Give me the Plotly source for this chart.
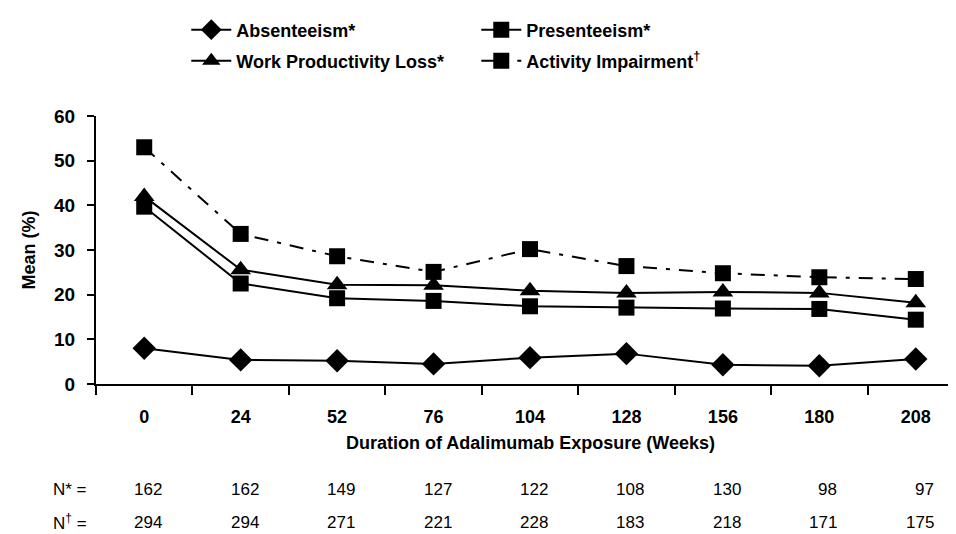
import plotly.graph_objects as go

weeks = ["0", "24", "52", "76", "104", "128", "156", "180", "208"]
absenteeism = [8.0, 5.4, 5.2, 4.5, 5.9, 6.8, 4.3, 4.1, 5.6]
presenteeism = [39.7, 22.5, 19.2, 18.6, 17.4, 17.1, 16.9, 16.8, 14.4]
work_loss = [42.0, 25.6, 22.2, 22.1, 20.9, 20.4, 20.6, 20.4, 18.2]
activity = [53.0, 33.6, 28.6, 25.1, 30.2, 26.4, 24.8, 23.9, 23.5]
n_star = ["162", "162", "149", "127", "122", "108", "130", "98", "97"]
n_dagger = ["294", "294", "271", "221", "228", "183", "218", "171", "175"]

FONT = "Liberation Sans, Arial, sans-serif"

fig = go.Figure()
series = [
    ("Absenteeism*", absenteeism, "diamond", 18, "solid", "legend"),
    ("Presenteeism*", presenteeism, "square", 16, "solid", "legend"),
    ("Work Productivity Loss*", work_loss, "triangle-up", 18, "solid", "legend2"),
    ("Activity Impairment<sup>†</sup>", activity, "square", 16, "14px,9px,4px,9px", "legend2"),
]
for name, vals, sym, size, dash, lg in series:
    fig.add_trace(go.Scatter(
        x=weeks, y=vals, name=name, mode="lines+markers", legend=lg,
        line=dict(color="black", width=2, dash=dash),
        marker=dict(symbol=sym, size=size, color="black", line=dict(width=0)),
    ))

NFONT = dict(family=FONT, size=17, color="black")
ROW1, ROW2 = -105, -138
for i in range(len(weeks)):
    fig.add_annotation(x=i, xref="x", y=0, yref="paper", yanchor="middle",
                       xanchor="right", xshift=20, yshift=ROW1,
                       text=n_star[i], showarrow=False, font=NFONT)
    fig.add_annotation(x=i, xref="x", y=0, yref="paper", yanchor="middle",
                       xanchor="right", xshift=20, yshift=ROW2,
                       text=n_dagger[i], showarrow=False, font=NFONT)

fig.add_annotation(x=-0.03, xref="paper", y=0, yref="paper", yanchor="middle",
                   xanchor="center", yshift=ROW1, text="N* =", showarrow=False,
                   font=NFONT)
fig.add_annotation(x=-0.03, xref="paper", y=0, yref="paper", yanchor="middle",
                   xanchor="center", yshift=ROW2, text="N<sup>†</sup> =", showarrow=False,
                   font=NFONT)
fig.add_annotation(x=0.5, xref="paper", y=0, yref="paper", yanchor="middle",
                   yshift=-59, text="<b>Duration of Adalimumab Exposure (Weeks)</b>",
                   showarrow=False, font=dict(family=FONT, size=18, color="black"))

LEGFONT = dict(family=FONT, size=18, color="black", weight="bold")
fig.update_layout(
    width=956, height=534,
    margin=dict(l=88, r=0, t=108, b=158),
    paper_bgcolor="white", plot_bgcolor="white",
    font=dict(family=FONT, size=17, color="black"),
    showlegend=True,
    legend=dict(
        orientation="h", x=0.104, y=1 - 22 / 534, xanchor="left", yanchor="middle",
        yref="container",
        entrywidth=235, entrywidthmode="pixels",
        font=LEGFONT, itemwidth=40,
    ),
    legend2=dict(
        orientation="h", x=0.104, y=1 - 53 / 534, xanchor="left", yanchor="middle",
        yref="container",
        entrywidth=235, entrywidthmode="pixels",
        font=LEGFONT, itemwidth=40,
    ),
    xaxis=dict(
        type="category", range=[-0.5, 8.5],
        showline=True, linecolor="black", linewidth=2,
        ticks="outside", tickson="boundaries", ticklen=9, tickwidth=2, tickcolor="black",
        tickfont=dict(family=FONT, size=18, color="black", weight="bold"),
        ticklabelstandoff=15,
        showgrid=False, zeroline=False,
    ),
    yaxis=dict(
        range=[0, 60], dtick=10,
        showline=True, linecolor="black", linewidth=2,
        ticks="outside", ticklen=7, tickwidth=2, tickcolor="black",
        tickfont=dict(family=FONT, size=19, color="black", weight="bold"),
        ticklabelstandoff=8,
        showgrid=False, zeroline=False,
        title=dict(text="<b>Mean (%)</b>", font=dict(family=FONT, size=18, color="black"), standoff=14),
    ),
)

fig.write_html("out.html")
